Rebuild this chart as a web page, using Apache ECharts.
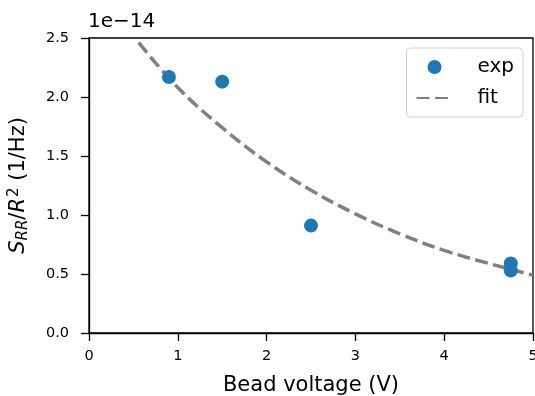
<!DOCTYPE html>
<html>
<head>
<meta charset="utf-8">
<script src="https://cdn.jsdelivr.net/npm/echarts@6/dist/echarts.min.js"></script>
<style>
  html, body { margin: 0; padding: 0; background: #fff; }
  #chart { width: 535px; height: 396px; }
</style>
</head>
<body>
<div id="chart"></div>
<script>
// values in units of 1e-14 (1/Hz)
const expVoltage = [0.9, 1.5, 2.5, 4.75, 4.75];
const expNoise = [2.17, 2.13, 0.91, 0.59, 0.53];

// fit curve
const fitVoltage = [0.56, 1.0, 1.5, 2.0, 2.5, 3.0, 3.5, 4.0, 4.5, 5.0];
const fitNoise = [2.46, 2.08, 1.74, 1.45, 1.21, 1.01, 0.84, 0.70, 0.59, 0.49];

const xTicks = [0, 1, 2, 3, 4, 5];
const yTicks = [0.0, 0.5, 1.0, 1.5, 2.0, 2.5];

const font = 'DejaVu Sans';
const chart = echarts.init(document.getElementById('chart'));

const option = {
  animation: false,
  backgroundColor: '#fff',
  textStyle: { fontFamily: font },
  title: {
    text: '1e\u221214',
    left: 88,
    top: 12,
    padding: 0,
    textStyle: { fontFamily: font, fontSize: 20, fontWeight: 'normal', color: '#000' }
  },
  grid: {
    left: 89, right: 2, top: 38, bottom: 63,
    outerBoundsMode: 'none',
    show: true, borderColor: '#000', borderWidth: 1.3, backgroundColor: 'transparent'
  },
  legend: {
    orient: 'vertical',
    right: 12,
    top: 48,
    padding: [9, 9, 9, 9],
    itemGap: 11,
    itemWidth: 36,
    itemHeight: 14,
    backgroundColor: '#fff',
    borderColor: '#d0d0d0',
    borderWidth: 1,
    borderRadius: 4,
    textStyle: { fontFamily: font, fontSize: 20, color: '#000', padding: [0, 0, 0, 20] },
    data: [
      { name: 'exp', icon: 'circle' },
      { name: 'fit', itemStyle: { opacity: 0 } }
    ]
  },
  xAxis: {
    type: 'value',
    min: xTicks[0],
    max: xTicks[xTicks.length - 1],
    interval: 1,
    name: 'Bead voltage (V)',
    nameLocation: 'middle',
    nameGap: 42,
    nameTextStyle: { fontFamily: font, fontSize: 21, color: '#000' },
    axisLine: { lineStyle: { color: '#000', width: 1.3 } },
    axisTick: { show: true, length: 8, lineStyle: { color: '#000', width: 1.3 } },
    axisLabel: { color: '#000', fontSize: 14.5, fontFamily: font, margin: 16 },
    splitLine: { show: false }
  },
  yAxis: {
    type: 'value',
    min: yTicks[0],
    max: yTicks[yTicks.length - 1],
    interval: 0.5,
    name: '{i|S}{sub|RR}{n|/}{i|R}{sup|2}{n| (1/Hz)}',
    nameLocation: 'middle',
    nameRotate: 90,
    nameGap: 58,
    nameTextStyle: {
      fontFamily: font, fontSize: 21, color: '#000',
      rich: {
        i: { fontFamily: font, fontSize: 21, fontStyle: 'italic', color: '#000' },
        n: { fontFamily: font, fontSize: 21, color: '#000' },
        sub: { fontFamily: font, fontSize: 15, fontStyle: 'italic', color: '#000', verticalAlign: 'bottom', padding: [7, 0, 0, 0] },
        sup: { fontFamily: font, fontSize: 15, color: '#000', verticalAlign: 'top', padding: [0, 0, 9, 1] }
      }
    },
    axisLine: { show: true, lineStyle: { color: '#000', width: 1.3 } },
    axisTick: { show: true, length: 8, lineStyle: { color: '#000', width: 1.3 } },
    axisLabel: {
      color: '#000', fontSize: 14.5, fontFamily: font, margin: 20,
      formatter: v => v.toFixed(1)
    },
    splitLine: { show: false }
  },
  series: [
    {
      name: 'fit',
      type: 'line',
      smooth: 0.4,
      symbol: 'none',
      data: fitVoltage.map((v, i) => [v, fitNoise[i]]),
      lineStyle: { color: '#808080', width: 3.5, type: [13, 5.5] },
      itemStyle: { color: '#808080' },
      z: 2
    },
    {
      name: 'exp',
      type: 'scatter',
      symbol: 'circle',
      symbolSize: 14,
      data: expVoltage.map((v, i) => [v, expNoise[i]]),
      itemStyle: { color: '#1f77b4', opacity: 1 },
      z: 3
    }
  ]
};

chart.setOption(option);
</script>
</body>
</html>
